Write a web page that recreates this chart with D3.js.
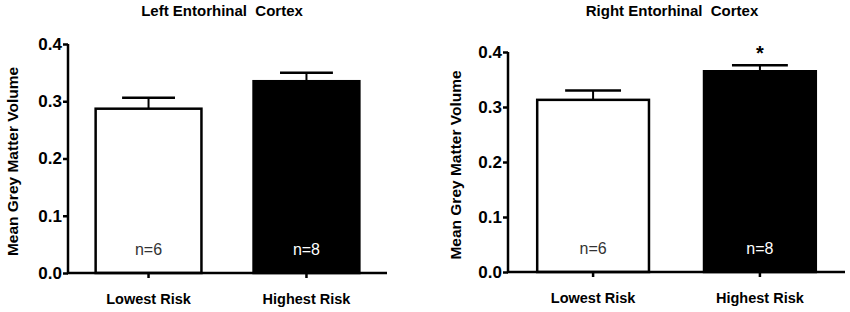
<!DOCTYPE html>
<html>
<head>
<meta charset="utf-8">
<script src="https://cdn.jsdelivr.net/npm/d3@7"></script>
<style>
  body { margin: 0; background: #fff; }
  svg { display: block; font-family: "Liberation Sans", Arial, sans-serif; }
</style>
</head>
<body>
<svg width="850" height="312"></svg>
<script>
const categories = ["Lowest Risk", "Highest Risk"];
const sampleSizes = ["n=6", "n=8"];
const leftMeans = [0.287, 0.335];
const leftSem = [0.019, 0.015];
const rightMeans = [0.313, 0.365];
const rightSem = [0.017, 0.011];
const rightStars = ["", "*"];
const yTicks = [0.0, 0.1, 0.2, 0.3, 0.4];
const fills = ["#ffffff", "#000000"];
const nColors = ["#333333", "#ffffff"];

const svg = d3.select("svg");

function drawPanel(title, means, sem, stars, box) {
    const g = svg.append("g");

    const x = d3.scaleBand()
        .domain(categories)
        .range([box.left, box.right])
        .paddingInner(0.33)
        .paddingOuter(0.175);

    const y = d3.scaleLinear()
        .domain([0, 0.4])
        .range([box.bottom, box.top]);

    const data = categories.map((c, i) => ({name: c, value: means[i], err: sem[i], n: sampleSizes[i], star: stars[i], i: i}));

    // error bars (upper only)
    g.selectAll(".err").data(data).enter().append("line")
        .attr("x1", d => x(d.name) + x.bandwidth() / 2)
        .attr("x2", d => x(d.name) + x.bandwidth() / 2)
        .attr("y1", d => y(d.value))
        .attr("y2", d => y(d.value + d.err))
        .attr("stroke", "#000").attr("stroke-width", 2);
    g.selectAll(".cap").data(data).enter().append("line")
        .attr("x1", d => x(d.name) + x.bandwidth() * 0.25)
        .attr("x2", d => x(d.name) + x.bandwidth() * 0.75)
        .attr("y1", d => y(d.value + d.err))
        .attr("y2", d => y(d.value + d.err))
        .attr("stroke", "#000").attr("stroke-width", 2.5);

    g.selectAll("rect").data(data).enter().append("rect")
        .attr("x", d => x(d.name))
        .attr("y", d => y(d.value))
        .attr("width", x.bandwidth())
        .attr("height", d => y(0) - y(d.value))
        .attr("fill", d => fills[d.i])
        .attr("stroke", "#000")
        .attr("stroke-width", 2.5);

    g.selectAll(".nlab").data(data).enter().append("text")
        .attr("x", d => x(d.name) + x.bandwidth() / 2)
        .attr("y", y(0) - 18)
        .attr("text-anchor", "middle")
        .attr("font-size", 16)
        .attr("fill", d => nColors[d.i])
        .text(d => d.n);

    g.selectAll(".star").data(data.filter(d => d.star)).enter().append("text")
        .attr("x", d => x(d.name) + x.bandwidth() / 2)
        .attr("y", d => y(d.value + d.err) - 5)
        .attr("text-anchor", "middle")
        .attr("font-size", 20)
        .attr("font-weight", "bold")
        .text(d => d.star);

    const yAxis = g.append("g")
        .attr("transform", `translate(${box.left},0)`)
        .call(d3.axisLeft(y).tickValues(yTicks).tickFormat(d3.format(".1f")).tickSize(5).tickPadding(1));
    const xAxis = g.append("g")
        .attr("transform", `translate(0,${box.bottom})`)
        .call(d3.axisBottom(x).tickSize(5).tickPadding(16).tickSizeOuter(0));

    [yAxis, xAxis].forEach(a => {
        a.select(".domain").attr("stroke-width", 2.5);
        a.selectAll(".tick line").attr("stroke-width", 2.5);
        a.selectAll("text").attr("font-family", null).attr("font-weight", "bold").attr("fill", "#000");
    });
    yAxis.select(".domain").attr("d", `M0,${box.top}H0V${box.bottom + 1}`);
    yAxis.selectAll("text").attr("font-size", 17);
    xAxis.select(".domain").attr("d", `M${box.left - 1},0H${box.right}`);
    xAxis.selectAll("text").attr("font-size", 14.5).attr("dy", "0.71em");

    g.append("text")
        .attr("x", box.titleX)
        .attr("y", 16)
        .attr("text-anchor", "middle")
        .attr("font-size", 15)
        .attr("font-weight", "bold")
        .style("white-space", "pre")
        .text(title);

    g.append("text")
        .attr("transform", `translate(${box.labelX},${(box.top + box.bottom) / 2 + 3}) rotate(-90)`)
        .attr("text-anchor", "middle")
        .attr("dy", "0.35em")
        .attr("font-size", 15.5)
        .attr("font-weight", "bold")
        .text("Mean Grey Matter Volume");
}

drawPanel("Left Entorhinal  Cortex", leftMeans, leftSem, ["", ""],
    {left: 68, right: 387, top: 44, bottom: 273, titleX: 222, labelX: 13});
drawPanel("Right Entorhinal  Cortex", rightMeans, rightSem, rightStars,
    {left: 508, right: 845, top: 52, bottom: 272, titleX: 672, labelX: 456});
</script>
</body>
</html>
